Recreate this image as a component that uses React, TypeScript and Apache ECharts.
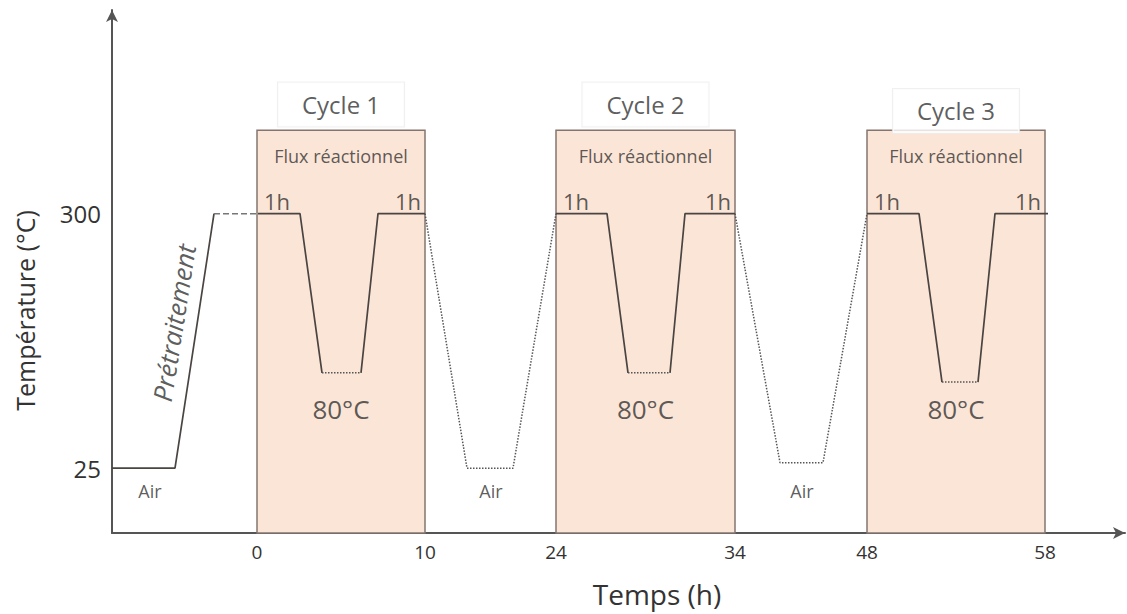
import React, { useEffect, useRef } from "react";
import * as echarts from "echarts";

// Schematic diagram: x = drawing position (1 unit ≈ 10 px of the original drawing),
// y = temperature-like level (the drawing is not to scale).
const X_MIN = 0;
const X_MAX = 101.3;
const Y_MIN = -45;
const Y_MAX = 520;

const cycleNames = ["Cycle 1", "Cycle 2", "Cycle 3"];
const cycleStart = [14.5, 44.4, 75.5];
const cycleEnd = [31.3, 62.3, 93.3];
const cycleLabelLevel = [418, 418, 411];
const boxTopLevel = 390;
const timeTickLabels = ["0", "10", "24", "34", "48", "58"];
const tempTickValues = [25, 300];

const pretreatRamp = [[0, 25], [6.3, 25], [10.2, 300]];
const pretreatHold = [[10.2, 300], [14.6, 300]];
const cycleCooling = [
  [[14.6, 300], [18.8, 300], [21.0, 128]],
  [[44.4, 300], [49.5, 300], [51.6, 128]],
  [[75.5, 300], [80.7, 300], [83.0, 118]],
];
const cycleLowHold = [
  [[21.0, 128], [24.9, 128]],
  [[51.6, 128], [55.8, 128]],
  [[83.0, 118], [86.6, 118]],
];
const cycleHeating = [
  [[24.9, 128], [26.6, 300], [31.3, 300]],
  [[55.8, 128], [57.3, 300], [62.3, 300]],
  [[86.6, 118], [88.3, 300], [93.6, 300]],
];
const airSwitch = [
  [[31.3, 300], [35.5, 25], [40.1, 25], [44.4, 300]],
  [[62.3, 300], [66.8, 31], [71.1, 31], [75.5, 300]],
];
const airLabelX = [3.8, 37.9, 69.0];
const airLabelLevel = 0;
const fluxLabelLevel = 362;
const holdLabelLevel = 314;
const lowLabelLevel = 89;
const pretreatLabel = [6.2, 182];

const FONT = "'Open Sans', 'Noto Sans', sans-serif";
const TEXT = "#333333";

export default function App() {
  const ref = useRef<HTMLDivElement>(null);

  useEffect(() => {
    if (!ref.current) return;
    const chart = echarts.init(ref.current, undefined, { renderer: "svg" });

    const tickPos: number[] = [];
    cycleStart.forEach((s, i) => {
      tickPos.push(s, cycleEnd[i]);
    });

    const solid = { color: "#4a4442", width: 1.7, type: "solid" };
    const dotted = { color: "#555555", width: 1.5, type: "dotted" };
    const dashed = { color: "#777777", width: 1.5, type: "dashed" };

    const lineSeries: any[] = [];
    const addLine = (data: number[][], style: any) =>
      lineSeries.push({
        type: "line",
        data,
        showSymbol: false,
        symbol: "none",
        silent: true,
        z: 3,
        lineStyle: style,
      });
    addLine(pretreatRamp, solid);
    addLine(pretreatHold, dashed);
    cycleCooling.forEach((d) => addLine(d, solid));
    cycleLowHold.forEach((d) => addLine(d, dotted));
    cycleHeating.forEach((d) => addLine(d, solid));
    airSwitch.forEach((d) => addLine(d, dotted));

    const ann: any[] = [];
    const txt = (x: number, y: number, text: string, extra: any = {}) =>
      ann.push({
        value: [x, y],
        label: {
          show: true,
          position: "inside",
          formatter: text,
          color: TEXT,
          fontFamily: FONT,
          align: "center",
          verticalAlign: "middle",
          ...extra,
        },
      });
    cycleNames.forEach((name, i) => {
      const mid = (cycleStart[i] + cycleEnd[i]) / 2;
      txt(mid, cycleLabelLevel[i], name, {
        fontSize: 24,
        backgroundColor: "#ffffff",
        borderColor: "#ececec",
        borderWidth: 1,
        padding: [10, 24],
      });
      txt(mid, fluxLabelLevel, "Flux réactionnel", { fontSize: 18 });
      txt(cycleStart[i], holdLabelLevel, "1h", { fontSize: 22, align: "left", offset: [7, 0] });
      txt(cycleEnd[i], holdLabelLevel, "1h", { fontSize: 22, align: "right", offset: [-4, 0] });
      txt(mid, lowLabelLevel, "80°C", { fontSize: 26 });
    });
    airLabelX.forEach((x) => txt(x, airLabelLevel, "Air", { fontSize: 18 }));
    txt(pretreatLabel[0], pretreatLabel[1], "Prétraitement", {
      fontSize: 26,
      fontStyle: "italic",
      rotate: 81,
    });

    const axisLine = {
      show: true,
      onZero: false,
      lineStyle: { color: "#555", width: 2 },
      symbol: ["none", "arrow"],
      symbolSize: [9, 12],
    };

    chart.setOption({
      animation: false,
      textStyle: { fontFamily: FONT },
      grid: { left: 112, right: 2, top: 10, bottom: 81, containLabel: false },
      xAxis: {
        type: "value",
        min: X_MIN,
        max: X_MAX,
        axisLine,
        axisTick: { show: false },
        splitLine: { show: false },
        axisLabel: {
          customValues: tickPos,
          fontSize: 19,
          color: TEXT,
          margin: 9,
          formatter: (v: number) => {
            const i = tickPos.findIndex((p) => Math.abs(p - v) < 1e-6);
            return i >= 0 ? timeTickLabels[i] : "";
          },
        },
        name: "Temps (h)",
        nameLocation: "middle",
        nameGap: 47,
        nameTextStyle: {
          fontSize: 28,
          color: TEXT,
          letterSpacing: 2,
          padding: [0, 0, 0, 77],
        },
      },
      yAxis: {
        type: "value",
        min: Y_MIN,
        max: Y_MAX,
        axisLine,
        axisTick: { show: false },
        splitLine: { show: false },
        axisLabel: { customValues: tempTickValues, fontSize: 24, color: TEXT, margin: 11 },
        name: "Température (°C)",
        nameLocation: "middle",
        nameGap: 75,
        nameTextStyle: { fontSize: 25, color: TEXT, padding: [0, 78, 0, 0] },
      },
      series: [
        {
          type: "custom",
          silent: true,
          z: 1,
          data: cycleStart.map((s, i) => [s, cycleEnd[i], Y_MIN, boxTopLevel]),
          encode: { x: [0, 1], y: [2, 3] },
          renderItem: (_p: any, api: any) => {
            const a = api.coord([api.value(0), api.value(3)]);
            const b = api.coord([api.value(1), api.value(2)]);
            return {
              type: "rect",
              shape: { x: a[0], y: a[1], width: b[0] - a[0], height: b[1] - a[1] },
              style: { fill: "#fbe5d6", stroke: "#857570", lineWidth: 1.5 },
            };
          },
        },
        ...lineSeries,
        {
          type: "scatter",
          symbolSize: 0,
          silent: true,
          z: 5,
          data: ann,
        },
      ],
    });

    return () => chart.dispose();
  }, []);

  return (
    <div
      ref={ref}
      style={{ position: "fixed", left: 0, top: 0, width: 1127, height: 614, background: "#fff" }}
    />
  );
}
